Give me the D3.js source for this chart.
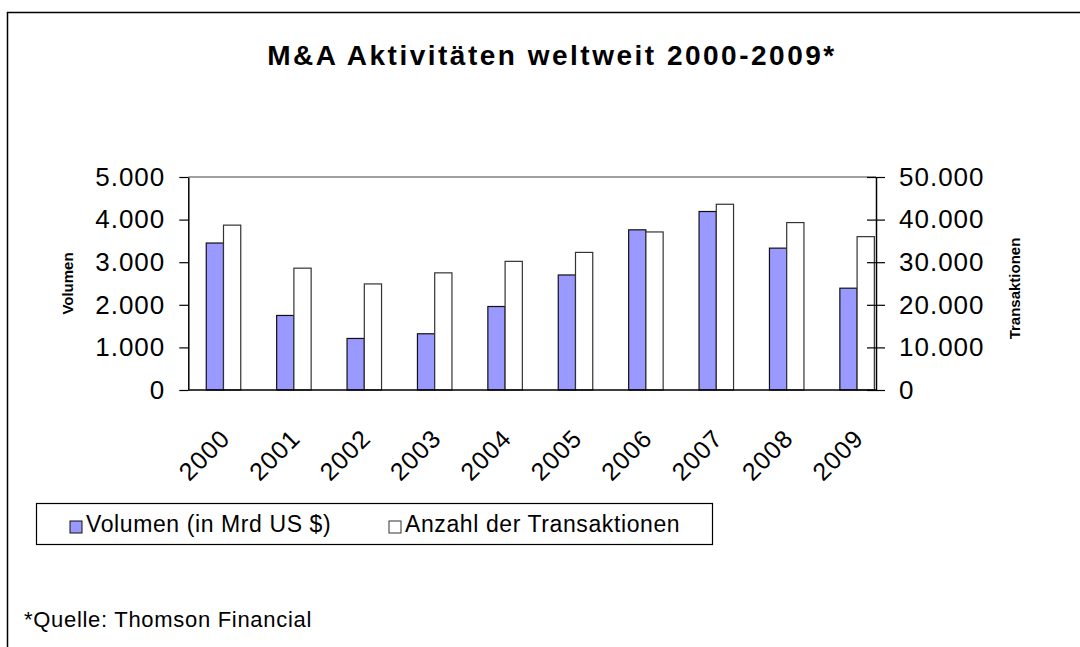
<!DOCTYPE html>
<html>
<head>
<meta charset="utf-8">
<script src="https://cdn.jsdelivr.net/npm/d3@7"></script>
<style>
	html, body { margin: 0; padding: 0; background: #fff; }
	svg { display: block; font-family: "Liberation Sans", Arial, sans-serif; }
</style>
</head>
<body>
<div class="chart"></div>
<script>
// ----------------------------------
// DATA
// ----------------------------------
const years = ['2000','2001','2002','2003','2004','2005','2006','2007','2008','2009'];
const volumen = [3450, 1750, 1210, 1320, 1960, 2700, 3760, 4190, 3330, 2390];           // Mrd US $
const transaktionen = [38700, 28600, 24900, 27500, 30200, 32300, 37100, 43600, 39300, 36000];
const leftTicks = [0, 1000, 2000, 3000, 4000, 5000];
const rightTicks = [0, 10000, 20000, 30000, 40000, 50000];

const titleText = 'M&A Aktivitäten weltweit 2000-2009*';
const seriesNames = ['Volumen (in Mrd US $)', 'Anzahl der Transaktionen'];
const sourceText = '*Quelle: Thomson Financial';

// ----------------------------------
// SIZES
// ----------------------------------
const width = 1080,
	height = 647,
	plot = { left: 188.3, right: 876, top: 177, bottom: 390 },
	volColor = '#9999ff';

// German number format: 5.000 / 50.000
const de = d3.formatLocale({ decimal: ',', thousands: '.', grouping: [3], currency: ['', ' €'] });
const fmt = de.format(',.0f');

const svg = d3.select('.chart')
	.append('svg')
	.attr('width', width)
	.attr('height', height);

// outer frame (runs off the right and bottom edge)
svg.append('rect')
	.attr('x', 7.5).attr('y', 12.5)
	.attr('width', 1200).attr('height', 800)
	.attr('fill', 'none')
	.attr('stroke', '#000')
	.attr('stroke-width', 1.5);

// ----------------------------------
// SCALES
// ----------------------------------
const xScale = d3.scaleBand()
	.domain(years)
	.range([plot.left, 892.3])
	.paddingInner(0);

const yLeft = d3.scaleLinear().domain([0, 5000]).range([plot.bottom, plot.top]);
const yRight = d3.scaleLinear().domain([0, 50000]).range([plot.bottom, plot.top]);

const barW = xScale.bandwidth() * 0.245,
	barOff = (xScale.bandwidth() - 2 * barW) / 2;

// top border of the plot area
svg.append('line')
	.attr('x1', plot.left).attr('x2', plot.right)
	.attr('y1', yLeft(5000)).attr('y2', yLeft(5000))
	.attr('stroke', '#808080')
	.attr('stroke-width', 1.5);

// ----------------------------------
// BARS
// ----------------------------------
const bars = svg.append('g').classed('bars', true);

bars.selectAll('.bar--vol')
	.data(years)
	.enter()
	.append('rect')
	.attr('class', 'bar bar--vol')
	.attr('x', d => xScale(d) + barOff)
	.attr('y', (d, i) => yLeft(volumen[i]))
	.attr('width', barW)
	.attr('height', (d, i) => yLeft(0) - yLeft(volumen[i]))
	.attr('fill', volColor)
	.attr('stroke', '#111')
	.attr('stroke-width', 1.2);

bars.selectAll('.bar--trans')
	.data(years)
	.enter()
	.append('rect')
	.attr('class', 'bar bar--trans')
	.attr('x', d => xScale(d) + barOff + barW)
	.attr('y', (d, i) => yRight(transaktionen[i]))
	.attr('width', barW)
	.attr('height', (d, i) => yRight(0) - yRight(transaktionen[i]))
	.attr('fill', '#fff')
	.attr('stroke', '#333')
	.attr('stroke-width', 1.2);

// ----------------------------------
// AXES
// ----------------------------------
const axisLeft = d3.axisLeft(yLeft)
	.tickValues(leftTicks)
	.tickFormat(fmt)
	.tickSizeInner(9)
	.tickSizeOuter(0)
	.tickPadding(14);

const gl = svg.append('g')
	.attr('class', 'y axis')
	.attr('transform', `translate(${plot.left},0)`)
	.call(axisLeft);

const axisRight = d3.axisRight(yRight)
	.tickValues(rightTicks)
	.tickFormat(fmt)
	.tickSizeInner(9)
	.tickSizeOuter(0)
	.tickPadding(14);

const gr = svg.append('g')
	.attr('class', 'y2 axis')
	.attr('transform', `translate(${plot.right},0)`)
	.call(axisRight);

// right axis ticks cross the line
gr.selectAll('.tick line').attr('x1', -9);

// baseline
svg.append('line')
	.attr('x1', plot.left).attr('x2', plot.right)
	.attr('y1', yLeft(0)).attr('y2', yLeft(0))
	.attr('stroke', '#000')
	.attr('stroke-width', 1.5);

[gl, gr].forEach(g => {
	g.select('.domain').attr('stroke', '#000').attr('stroke-width', 1.5);
	g.selectAll('.tick line').attr('stroke', '#000').attr('stroke-width', 1.2);
	g.selectAll('.tick text')
		.attr('fill', '#000')
		.style('font-size', '26px')
		.style('letter-spacing', '1px')
		.style('font-family', '"Liberation Sans", Arial, sans-serif');
});

// x labels, rotated 45 degrees
svg.append('g')
	.attr('class', 'x labels')
	.selectAll('text')
	.data(years)
	.enter()
	.append('text')
	.attr('transform', d => `translate(${xScale(d) + xScale.bandwidth() / 2 + 8},440) rotate(-45)`)
	.attr('text-anchor', 'end')
	.style('font-size', '25px')
	.style('letter-spacing', '1px')
	.text(d => d);

// ----------------------------------
// LABELS
// ----------------------------------
svg.append('text')
	.attr('x', 552)
	.attr('y', 65)
	.attr('text-anchor', 'middle')
	.style('font-size', '28px')
	.style('font-weight', 'bold')
	.style('letter-spacing', '2.5px')
	.text(titleText);

svg.append('text')
	.attr('transform', `translate(73,${(plot.top + plot.bottom) / 2}) rotate(-90)`)
	.attr('text-anchor', 'middle')
	.style('font-size', '15px')
	.style('font-weight', 'bold')
	.text('Volumen');

svg.append('text')
	.attr('transform', `translate(1020,${(plot.top + plot.bottom) / 2 + 5}) rotate(-90)`)
	.attr('text-anchor', 'middle')
	.style('font-size', '15px')
	.style('font-weight', 'bold')
	.text('Transaktionen');

// legend box
const legend = svg.append('g').attr('class', 'legend');
legend.append('rect')
	.attr('x', 36.5).attr('y', 503.5)
	.attr('width', 676).attr('height', 41)
	.attr('fill', '#fff')
	.attr('stroke', '#000')
	.attr('stroke-width', 1.2);

const legendX = [70, 389];
legend.selectAll('.legend-item')
	.data(seriesNames)
	.enter()
	.append('g')
	.attr('class', 'legend-item')
	.attr('transform', (d, i) => `translate(${legendX[i]},524)`)
	.each(function(d, i) {
		const g = d3.select(this);
		g.append('rect')
			.attr('x', 0).attr('y', -3)
			.attr('width', 12).attr('height', 12)
			.attr('fill', i === 0 ? volColor : '#fff')
			.attr('stroke', i === 0 ? '#111' : '#333');
		g.append('text')
			.attr('x', 16)
			.attr('y', 8)
			.style('font-size', '23px')
			.style('letter-spacing', '0.6px')
			.text(d);
	});

svg.append('text')
	.attr('x', 24)
	.attr('y', 627)
	.style('font-size', '22px')
	.style('letter-spacing', '0.7px')
	.text(sourceText);
</script>
</body>
</html>
